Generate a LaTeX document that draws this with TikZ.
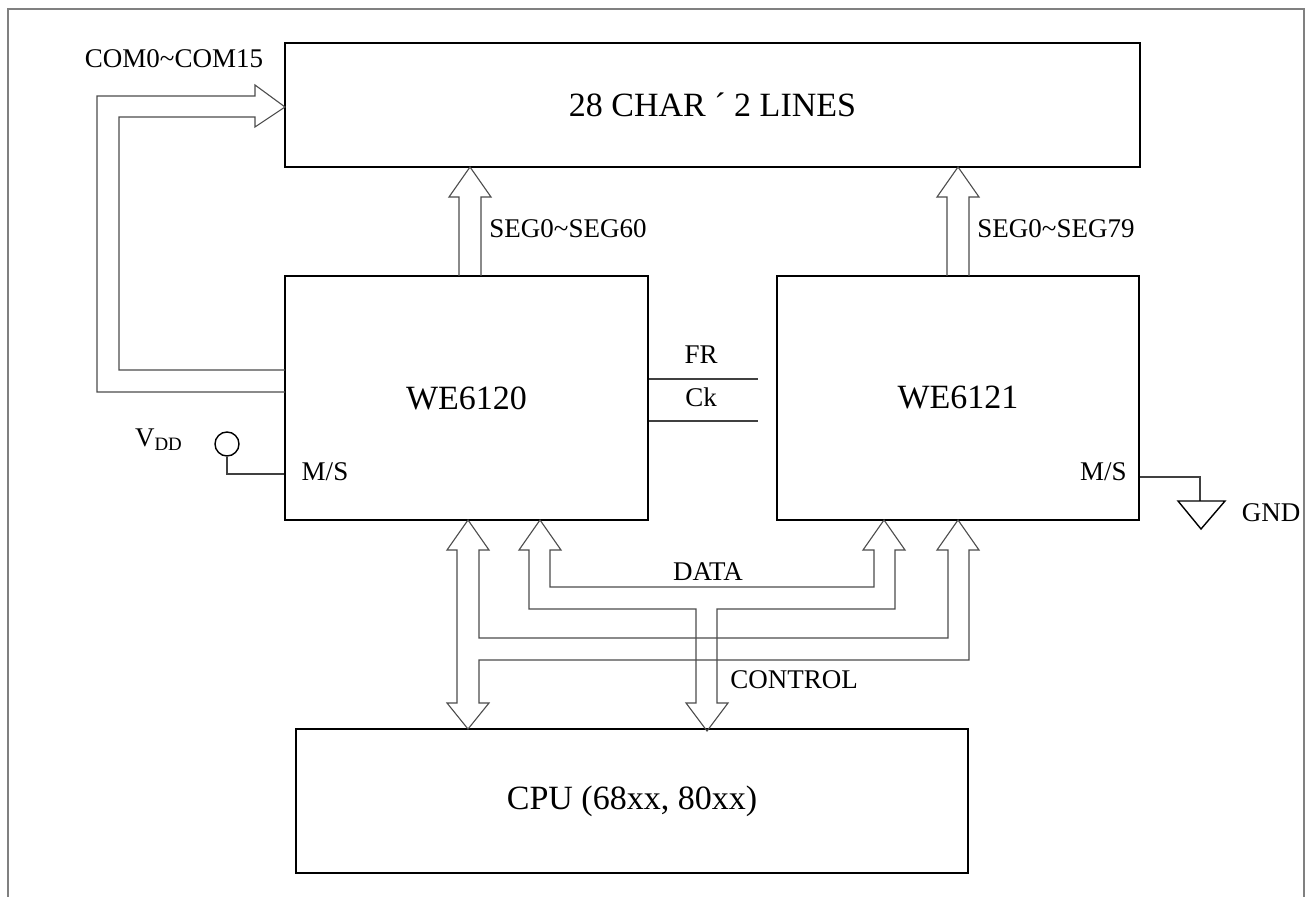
\documentclass[tikz,border=0pt]{standalone}
\usepackage{fontspec}
\setmainfont{Liberation Serif}
\usetikzlibrary{positioning}

\begin{document}
\begin{tikzpicture}[x=0.5pt, y=-0.5pt,
    box/.style={rectangle, draw, line width=1pt, inner sep=0pt},
    bus/.style={draw=black!70, line width=0.55pt, line join=miter},
    wire/.style={draw=black!75, line width=0.55pt},
    small/.style={inner sep=0pt, font=\fontsize{13.5}{15}\selectfont},
    big/.style={font=\fontsize{17}{19}\selectfont}]
    \useasboundingbox (0,0) rectangle (1309,897);
    \draw[black!50, line width=1pt] (8,905) -- (8,9) -- (1304,9) -- (1304,905);

    % blocks
    \node (lcd) [box, big, minimum width=427.5pt, minimum height=62pt] at (712.5,105) {28 CHAR ´ 2 LINES};
    \node (drv0) [box, big, minimum width=181.5pt, minimum height=122pt] at (466.5,398) {WE6120};
    \node (drv1) [box, big, minimum width=181pt, minimum height=122pt] at (958,398) {WE6121};
    \node (cpu) [box, big, minimum width=336pt, minimum height=72pt] at (632,801) {CPU (68xx, 80xx)};

    % labels
    \node (com) [small] at (174,59) {COM0\textasciitilde COM15};
    \node (seg0) [small, anchor=west] at (489,229) {SEG0\textasciitilde SEG60};
    \node (seg1) [small, anchor=west] at (977,229) {SEG0\textasciitilde SEG79};
    \node (fr) [small] at (701,355) {FR};
    \node (ck) [small] at (701,397) {Ck};
    \node (data) [small] at (708,572) {DATA};
    \node (ctrl) [small, anchor=west] at (730,680) {CONTROL};
    \node (ms0) [small] at (325,472) {M/S};
    \node (ms1) [small, anchor=east] at (1127,472) {M/S};
    \node (vdd) [small] at (159,440) {V\textsubscript{DD}};
    \node (gnd) [small] at (1271,513) {GND};

    % FR / Ck
    \coordinate (frend) at (758,379);
    \coordinate (ckend) at (758,421);
    \draw[wire] (drv0.east |- frend) -- (frend);
    \draw[wire] (drv0.east |- ckend) -- (ckend);

    % M/S pins
    \node (vcc) [circle, draw, line width=0.7pt, minimum size=12pt, inner sep=0pt] at (227,444) {};
    \draw[wire] (vcc.south) |- (drv0.west |- 0,474);
    \coordinate (gtop) at (1200,501);
    \draw[wire] (drv1.east |- 0,477) -| (gtop);
    \draw[line width=0.7pt] (1178,501) -- (1225,501) -- (1201,529) -- cycle;

    % COM bus
    \draw[bus] (285,392) -- (97,392) -- (97,96) -- (255,96) -- (255,85) -- (285,107)
        -- (255,127) -- (255,117) -- (119,117) -- (119,370) -- (285,370);

    % SEG buses
    \draw[bus] (459,276) -- (459,197) -- (449,197) -- (470,167) -- (491,197) -- (481,197) -- (481,276);
    \draw[bus] (947,276) -- (947,197) -- (937,197) -- (958,167) -- (979,197) -- (969,197) -- (969,276);

    % control bus
    \draw[bus] (479,638) -- (479,550) -- (489,550) -- (468,520) -- (447,550) -- (457,550)
        -- (457,703) -- (447,703) -- (468,729) -- (489,703) -- (479,703) -- (479,660)
        -- (969,660) -- (969,550) -- (979,550) -- (958,520) -- (937,550) -- (948,550)
        -- (948,638) -- cycle;

    % data bus
    \draw[bus] (550,587) -- (550,550) -- (561,550) -- (540,520) -- (519,550) -- (529,550)
        -- (529,609) -- (696,609) -- (696,703) -- (686,703) -- (707,731) -- (728,703)
        -- (717,703) -- (717,609) -- (895,609) -- (895,550) -- (905,550) -- (884,520)
        -- (863,550) -- (874,550) -- (874,587) -- cycle;
\end{tikzpicture}
\end{document}
